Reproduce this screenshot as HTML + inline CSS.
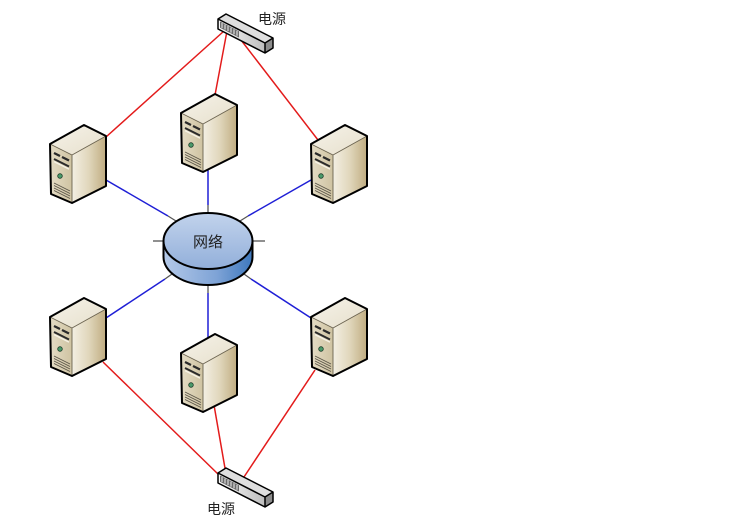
<!DOCTYPE html>
<html>
<head>
<meta charset="utf-8">
<style>
  html,body{margin:0;padding:0;background:#fff;}
  body{width:753px;height:523px;overflow:hidden;}
  svg{display:block;}
  text{font-family:"Liberation Sans","Noto Sans CJK SC",sans-serif;fill:#222;}
</style>
</head>
<body>
<svg width="753" height="523" viewBox="0 0 753 523" xmlns="http://www.w3.org/2000/svg">
  <defs>
    <linearGradient id="gTop" x1="0" y1="0" x2="1" y2="1">
      <stop offset="0" stop-color="#f6f3ea"/>
      <stop offset="1" stop-color="#e6dfcb"/>
    </linearGradient>
    <linearGradient id="gFront" x1="0" y1="0" x2="1" y2="0">
      <stop offset="0" stop-color="#e4dcc5"/>
      <stop offset="1" stop-color="#cfc3a2"/>
    </linearGradient>
    <linearGradient id="gSide" x1="0" y1="0" x2="1" y2="0">
      <stop offset="0" stop-color="#f3efe3"/>
      <stop offset="0.5" stop-color="#e0d6bb"/>
      <stop offset="1" stop-color="#bfac80"/>
    </linearGradient>
    <linearGradient id="cylTop" x1="0" y1="0" x2="0" y2="1">
      <stop offset="0" stop-color="#c2d3ec"/>
      <stop offset="1" stop-color="#92afda"/>
    </linearGradient>
    <linearGradient id="cylSide" x1="0" y1="0" x2="1" y2="0">
      <stop offset="0" stop-color="#b4c9e8"/>
      <stop offset="0.6" stop-color="#7ea3d6"/>
      <stop offset="1" stop-color="#3e78bd"/>
    </linearGradient>
    <linearGradient id="psFront" x1="0" y1="0" x2="1" y2="0">
      <stop offset="0" stop-color="#fafafa"/>
      <stop offset="1" stop-color="#bdbdbd"/>
    </linearGradient>

    <g id="srv">
      <path d="M0,19 L34,0 L56,11 L22,30 Z" fill="url(#gTop)"/>
      <path d="M0,19 L22,30 L22,78 L1,69 Z" fill="url(#gFront)"/>
      <path d="M22,30 L56,11 L56,61 L22,78 Z" fill="url(#gSide)"/>
      <path d="M22,30 L22,78 M0,19 L22,30 L56,11" stroke="#6b6350" stroke-width="0.9" fill="none"/>
      <path d="M4,28 L10,31" stroke="#2a2a2a" stroke-width="2.2"/>
      <path d="M12,32 L19,35.5" stroke="#2a2a2a" stroke-width="2.2"/>
      <path d="M4,34 L19,41.5" stroke="#2a2a2a" stroke-width="2"/>
      <path d="M4,36.6 L19,44.1" stroke="#f6f2e6" stroke-width="1.4"/>
      <circle cx="10" cy="51" r="2.3" fill="#4a9a6a" stroke="#1d3d2a" stroke-width="0.8"/>
      <path d="M4,58 L20,66 M4,60.5 L20,68.5 M4,63 L20,71 M4,65.5 L20,73.5" stroke="#5a5548" stroke-width="0.9" fill="none"/>
      <path d="M0,19 L34,0 L56,11 L56,61 L22,78 L1,69 Z" fill="none" stroke="#000" stroke-width="2" stroke-linejoin="round"/>
    </g>

    <g id="strip">
      <path d="M218,19 L226,14 L273,38 L265,43 Z" fill="#dedede"/>
      <path d="M218,19 L265,43 L265,53 L218,29 Z" fill="url(#psFront)"/>
      <path d="M265,43 L273,38 L273,48 L265,53 Z" fill="#8c8c8c"/>
      <path d="M220,21.5 L239,31.2 L239,37.5 L220,27.8 Z" fill="#6a6a6a"/>
      <path d="M222,23 L222,28 M225,24.5 L225,29.5 M228,26 L228,31 M231,27.6 L231,32.6 M234,29.2 L234,34.2 M237,30.8 L237,35.8" stroke="#f2f2f2" stroke-width="1"/>
      <path d="M218,19 L226,14 L273,38 L273,48 L265,53 L218,29 Z M218,19 L265,43 L273,38 M265,43 L265,53" fill="none" stroke="#000" stroke-width="1.5" stroke-linejoin="round"/>
    </g>
  </defs>

  <!-- red power lines -->
  <g stroke="#e31b1b" stroke-width="1.5" fill="none">
    <line x1="224" y1="31" x2="106" y2="137"/>
    <line x1="227" y1="31" x2="215" y2="95"/>
    <line x1="241" y1="40" x2="318" y2="140"/>
    <line x1="103" y1="362" x2="220" y2="476"/>
    <line x1="214" y1="405" x2="226" y2="474"/>
    <line x1="315" y1="370" x2="242" y2="480"/>
  </g>

  <!-- blue network lines -->
  <g stroke="#1f1fd6" stroke-width="1.5" fill="none">
    <line x1="106" y1="180" x2="168" y2="216"/>
    <line x1="208" y1="170" x2="208" y2="205"/>
    <line x1="311" y1="180" x2="248" y2="216"/>
    <line x1="106" y1="318" x2="165" y2="279"/>
    <line x1="208" y1="338" x2="208" y2="293"/>
    <line x1="311" y1="318" x2="251" y2="279"/>
  </g>
  <g stroke="#555" stroke-width="1.3" fill="none">
    <line x1="168" y1="216" x2="176" y2="221"/>
    <line x1="208" y1="205" x2="208" y2="214"/>
    <line x1="248" y1="216" x2="240" y2="221"/>
    <line x1="165" y1="279" x2="172" y2="274"/>
    <line x1="208" y1="293" x2="208" y2="285"/>
    <line x1="251" y1="279" x2="244" y2="274"/>
    <line x1="153" y1="241" x2="164" y2="241"/>
    <line x1="253" y1="241" x2="265" y2="241"/>
  </g>

  <!-- network cylinder -->
  <path d="M163.5,241 L163.5,257 A44.5,28 0 0 0 252.5,257 L252.5,241 Z" fill="url(#cylSide)" stroke="#000" stroke-width="2" stroke-linejoin="round"/>
  <ellipse cx="208" cy="241" rx="44.5" ry="28" fill="url(#cylTop)" stroke="#000" stroke-width="2"/>
  <text x="208" y="247" font-size="15" text-anchor="middle">网络</text>

  <!-- servers -->
  <use href="#srv" transform="translate(50,125)"/>
  <use href="#srv" transform="translate(181,94)"/>
  <use href="#srv" transform="translate(311,125)"/>
  <use href="#srv" transform="translate(50,298)"/>
  <use href="#srv" transform="translate(181,334)"/>
  <use href="#srv" transform="translate(311,298)"/>

  <!-- power strips -->
  <use href="#strip"/>
  <use href="#strip" transform="translate(0,454)"/>

  <text x="272" y="24" font-size="14" text-anchor="middle">电源</text>
  <text x="221" y="514" font-size="14" text-anchor="middle">电源</text>
</svg>
</body>
</html>
